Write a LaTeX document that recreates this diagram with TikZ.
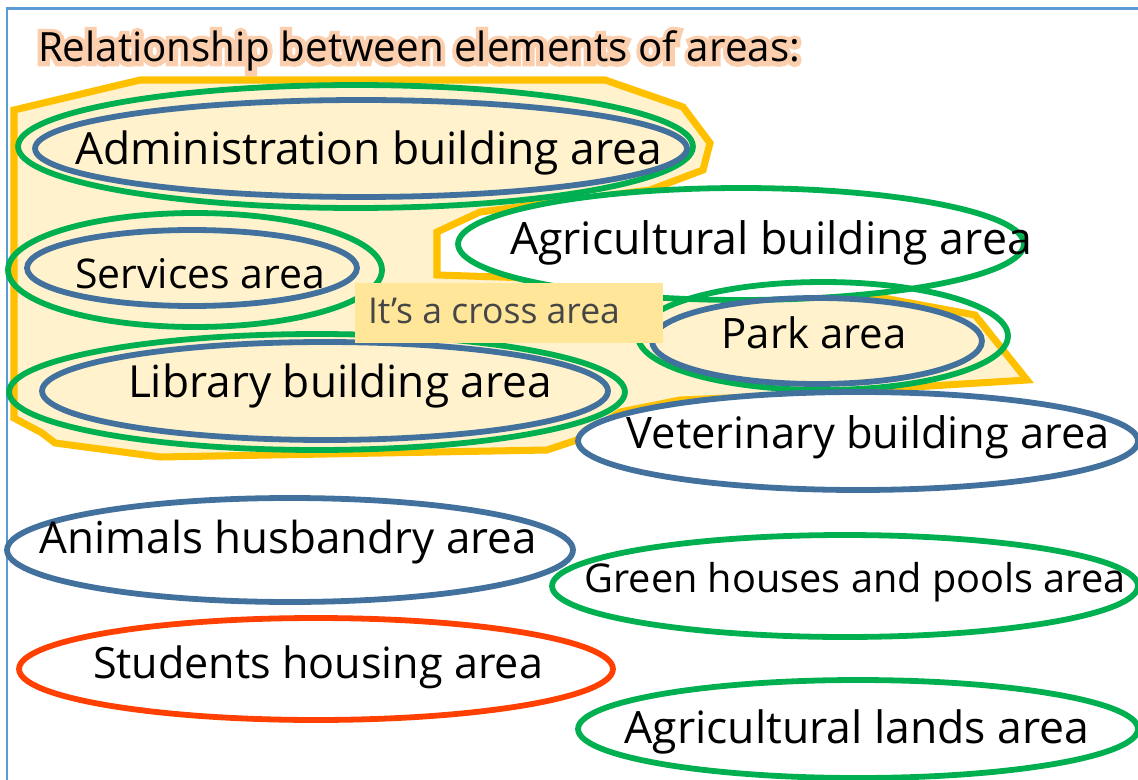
\documentclass[tikz,border=0pt]{standalone}
\usepackage{fontspec}
\setmainfont{Open Sans}
\newfontfamily\glowfont[FakeBold=22]{Open Sans}
\usetikzlibrary{calc}

\definecolor{areagreen}{RGB}{0,176,80}
\definecolor{areablue}{RGB}{65,113,156}
\definecolor{areared}{RGB}{255,64,0}
\definecolor{crossgold}{RGB}{255,192,0}
\definecolor{crossfill}{RGB}{255,242,204}
\definecolor{notefill}{RGB}{255,230,153}
\definecolor{notetext}{RGB}{70,70,70}
\definecolor{frameblue}{RGB}{91,155,213}
\definecolor{glowpeach}{RGB}{251,206,174}

% squeeze a label to a given width
\newcommand{\fitw}[2]{\resizebox{#1}{!}{#2}}

\tikzset{
  ring/.style={line width=3.3pt},
  lbl/.style={anchor=base, inner sep=0pt},
  notebox/.style={fill=notefill, minimum width=6.16cm, minimum height=1.2cm, inner sep=0pt}
}

\begin{document}
\begin{tikzpicture}[x=0.02cm,y=-0.02cm]
    \useasboundingbox (0,0) rectangle (1138,780);
    \clip (0,0) rectangle (1138,780);
    \fill[white] (0,0) rectangle (1138,780);
    \draw[frameblue, line width=1.5pt] (7,780) -- (7,8.5) -- (1138,8.5);

    % heading, with a fat peach copy behind it as glow
    \node[lbl, text=glowpeach] (titleglow) at (419,62) {\fitw{15.24cm}{\glowfont Relationship between elements of areas:}};
    \node[lbl] (title) at (419,62) {\fitw{15.24cm}{Relationship between elements of areas:}};

    % the crossing region
    \filldraw[crossgold, fill=crossfill, line width=4pt, line join=miter]
      (14,110) -- (140,80) -- (605,80) -- (683,107) -- (710,143) -- (703,170)
      -- (650,190) -- (480,212) -- (437,232) -- (437,275) -- (747,285)
      -- (840,290) -- (975,315) -- (1027,380) -- (930,386) -- (800,395)
      -- (680,400) -- (620,412) -- (577,440) -- (547,450) -- (160,457)
      -- (55,443) -- (42,433) -- (14,418) -- cycle;

    \draw[ring, areagreen] (355.5,146.5) ellipse [x radius=6.75cm, y radius=1.23cm];
    \draw[ring, areablue] (361,148.5) ellipse [x radius=6.52cm, y radius=0.97cm];
    \draw[ring, areagreen] (195,270) ellipse [x radius=3.74cm, y radius=1.14cm];
    \draw[ring, areablue] (192,268) ellipse [x radius=3.3cm, y radius=0.76cm];
    \draw[ring, areagreen] (317,392) ellipse [x radius=6.16cm, y radius=1.16cm];
    \draw[ring, areablue] (325,391) ellipse [x radius=5.66cm, y radius=0.98cm];
    \filldraw[ring, areagreen, fill=white] (741,244) ellipse [x radius=5.66cm, y radius=1.12cm];
    \draw[ring, areagreen] (823,336) ellipse [x radius=3.7cm, y radius=1.08cm];
    \draw[ring, areablue] (817,341) ellipse [x radius=3.3cm, y radius=0.86cm];
    \filldraw[ring, areablue, fill=white] (858,441) ellipse [x radius=5.6cm, y radius=0.98cm];

    % areas outside the crossing
    \draw[ring, areablue] (290,550) ellipse [x radius=5.66cm, y radius=1.04cm];
    \draw[ring, areagreen] (845,586) ellipse [x radius=5.86cm, y radius=1.02cm];
    \draw[ring, areared] (316,669) ellipse [x radius=5.94cm, y radius=1.02cm];
    \draw[ring, areagreen] (858,729) ellipse [x radius=5.6cm, y radius=0.98cm];

    \node[notebox] (note) at (509,313) {};
    \node[lbl, text=notetext] (notelbl) at (494,323) {\fitw{5.04cm}{It's a cross area}};

    \node[lbl] (admin) at (368.5,165) {\fitw{11.74cm}{Administration building area}};
    \node[lbl] (agribuild) at (771,255) {\fitw{10.44cm}{Agricultural building area}};
    \node[lbl] (services) at (200,288) {\fitw{5cm}{Services area}};
    \node[lbl] (park) at (814,348) {\fitw{3.7cm}{Park area}};
    \node[lbl] (library) at (340,397) {\fitw{8.48cm}{Library building area}};
    \node[lbl] (vet) at (868.5,448) {\fitw{9.66cm}{Veterinary building area}};
    \node[lbl] (animals) at (288.5,553) {\fitw{9.94cm}{Animals husbandry area}};
    \node[lbl] (greenhouses) at (855,592) {\fitw{10.82cm}{Green houses and pools area}};
    \node[lbl] (students) at (318,678) {\fitw{9cm}{Students housing area}};
    \node[lbl] (agrilands) at (857,743) {\fitw{9.3cm}{Agricultural lands area}};
\end{tikzpicture}
\end{document}
